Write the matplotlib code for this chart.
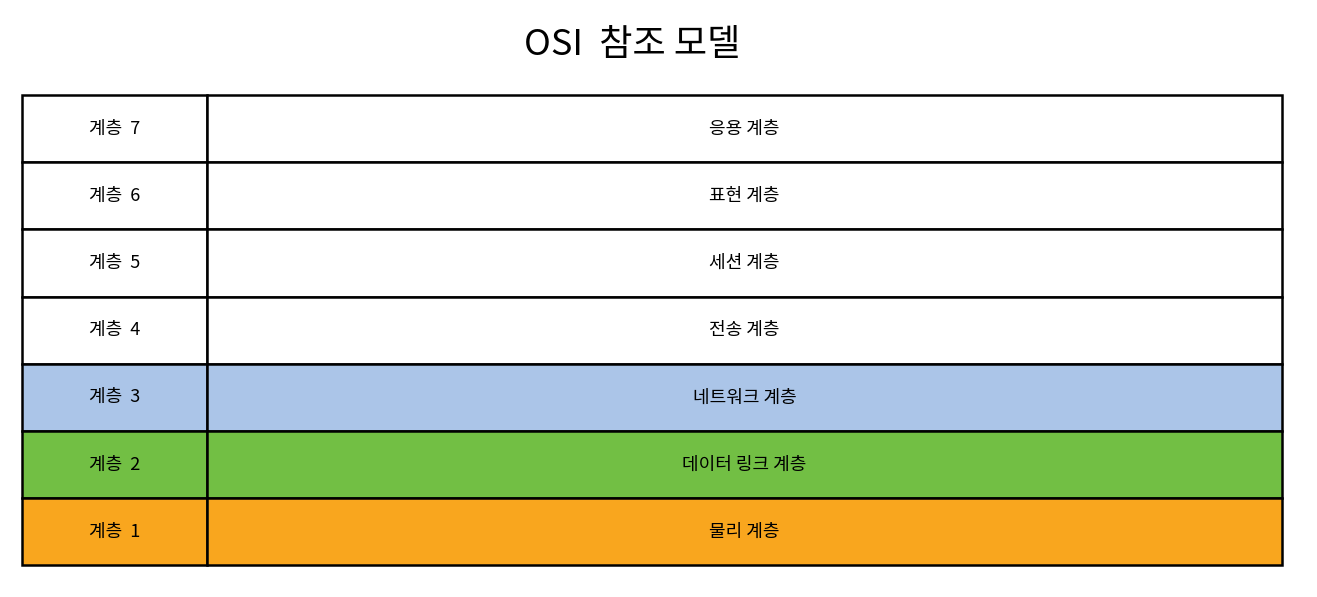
import matplotlib.pyplot as plt
from matplotlib.patches import Rectangle

plt.rcParams['font.family'] = ['Noto Sans CJK KR', 'DejaVu Sans']

title = 'OSI  참조 모델'
layers = ['계층  7', '계층  6', '계층  5', '계층  4', '계층  3', '계층  2', '계층  1']
names = ['응용 계층', '표현 계층', '세션 계층', '전송 계층',
         '네트워크 계층', '데이터 링크 계층', '물리 계층']
fills = ['white', 'white', 'white', 'white', '#abc5e8', '#72bf44', '#f9a61e']

fig = plt.figure(figsize=(13.17, 5.97), dpi=100)
ax = fig.add_axes([0, 0, 1, 1])
ax.set_xlim(0, 1317)
ax.set_ylim(597, 0)
ax.axis('off')

left, mid, right = 22, 207, 1282
top, row_h = 95, 67.2

for i, (lab, name, c) in enumerate(zip(layers, names, fills)):
    y = top + i * row_h
    ax.add_patch(Rectangle((left, y), mid - left, row_h, facecolor=c, edgecolor='black', lw=1.8))
    ax.add_patch(Rectangle((mid, y), right - mid, row_h, facecolor=c, edgecolor='black', lw=1.8))
    ax.text((left + mid) / 2, y + row_h / 2, lab, ha='center', va='center', fontsize=13)
    ax.text((mid + right) / 2, y + row_h / 2, name, ha='center', va='center', fontsize=13)

ax.text(632, 45, title, ha='center', va='center', fontsize=26)

fig.savefig('out.png', dpi=100)
